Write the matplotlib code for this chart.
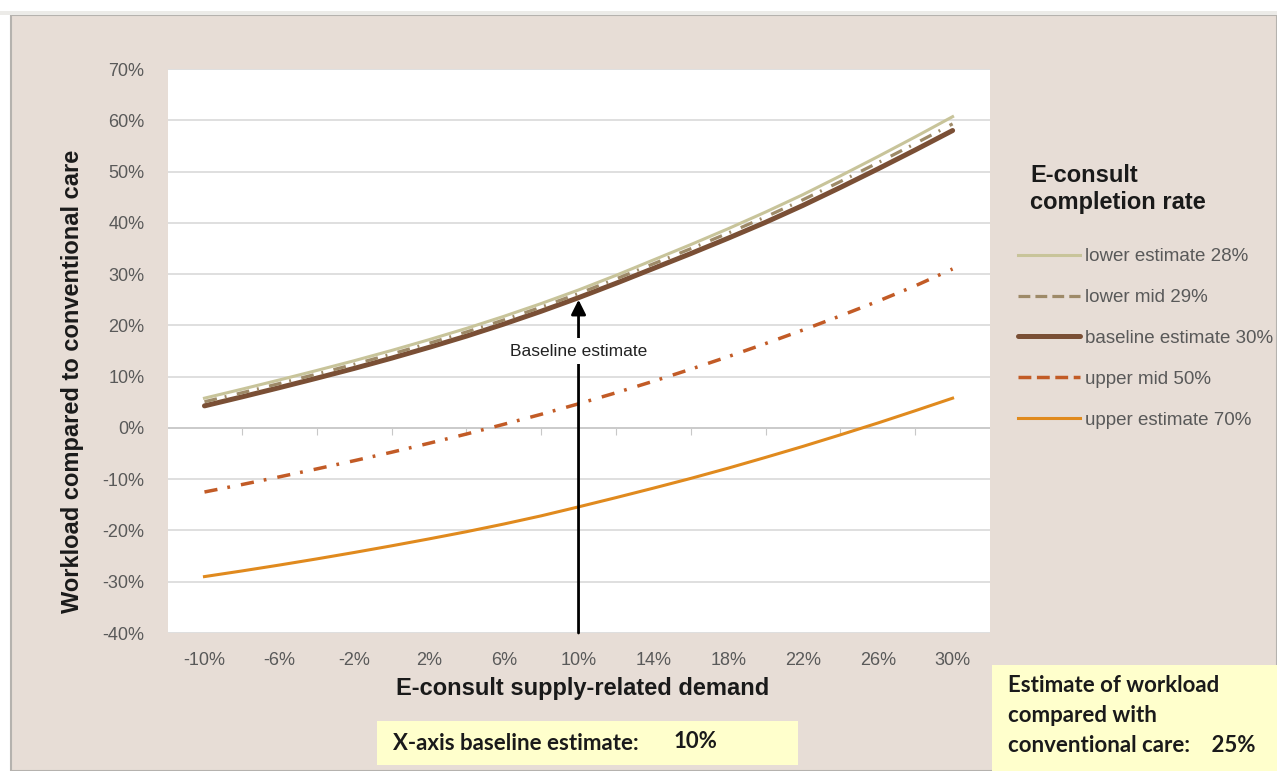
import matplotlib
matplotlib.use("Agg")
import matplotlib.pyplot as plt
from matplotlib.patches import Rectangle
from matplotlib.ticker import PercentFormatter
from matplotlib.lines import Line2D

# supply-related demand (%), one point every 2%
demand = list(range(-10, 31, 2))

lower_est = [5.8, 7.55, 9.35, 11.2, 13.1, 15.1, 17.2, 19.4, 21.75, 24.25, 26.9,
             29.75, 32.75, 35.75, 38.85, 42.1, 45.5, 49.15, 52.9, 56.75, 60.7]
lower_mid = [5.1, 6.85, 8.65, 10.5, 12.4, 14.4, 16.5, 18.7, 21.05, 23.55, 26.2,
             29.05, 32.0, 34.95, 38.0, 41.15, 44.5, 48.05, 51.7, 55.45, 59.3]
baseline = [4.3, 6.05, 7.85, 9.7, 11.6, 13.6, 15.7, 17.9, 20.25, 22.75, 25.4,
            28.2, 31.1, 34.0, 37.0, 40.1, 43.4, 46.9, 50.5, 54.2, 58.0]
upper_mid = [-12.5, -11.05, -9.55, -8.0, -6.4, -4.75, -3.0, -1.2, 0.7, 2.65, 4.7,
             6.85, 9.1, 11.45, 13.9, 16.45, 19.1, 21.85, 24.7, 27.7, 31.0]
upper_est = [-29.0, -27.9, -26.75, -25.55, -24.3, -23.0, -21.65, -20.25, -18.75, -17.15, -15.4,
             -13.6, -11.75, -9.85, -7.85, -5.75, -3.6, -1.35, 0.95, 3.35, 5.8]

series_labels = ["lower estimate 28%", "lower mid 29%", "baseline estimate 30%",
                 "upper mid 50%", "upper estimate 70%"]

x_ticks = list(range(-10, 31, 4))
x_minor = list(range(-8, 29, 4))
y_ticks = list(range(-40, 71, 10))

baseline_x = 10
baseline_workload = 25

BG = "#e7ddd6"
GRID = "#d9d9d9"
TXT = "#595959"

plt.rcParams['font.family'] = ['Liberation Sans', 'DejaVu Sans']
plt.rcParams['axes.unicode_minus'] = False

W, H = 1277, 771
fig = plt.figure(figsize=(W / 100, H / 100), dpi=100, facecolor="white")

# beige panel with grey frame
fig.patches.append(Rectangle((11 / W, 0), 1 - 11 / W, (H - 15) / H, transform=fig.transFigure,
                             facecolor=BG, edgecolor="#b5b2ae", lw=1.5, zorder=-10))
fig.patches.append(Rectangle((0, (H - 15) / H), 1, 4 / H, transform=fig.transFigure,
                             facecolor="#ecebe8", edgecolor="none", zorder=-10))

ax = fig.add_axes([168 / W, (H - 633) / H, (990 - 168) / W, (633 - 69) / H], zorder=2)
ax.set_facecolor("white")
for s in ax.spines.values():
    s.set_visible(False)

ax.set_xlim(-11.95, 32)
ax.set_ylim(-40, 70)
ax.set_yticks(y_ticks)
ax.yaxis.set_major_formatter(PercentFormatter(100, decimals=0))
ax.set_xticks(x_ticks)
ax.set_xticklabels([f"{v}%" for v in x_ticks])
ax.tick_params(axis="both", length=0, labelsize=13, labelcolor=TXT)
ax.tick_params(axis="y", pad=17)
ax.tick_params(axis="x", pad=14)
ax.grid(axis="y", color=GRID, lw=1.2)
ax.set_axisbelow(True)

# horizontal axis drawn at 0%
ax.axhline(0, color="#c8c8c8", lw=1.2, zorder=1)
sec = ax.secondary_xaxis(40 / 110)
sec.set_xticks(x_minor)
sec.tick_params(axis="x", length=5, color="#c8c8c8", labelbottom=False, labeltop=False,
                direction="out")
for s in sec.spines.values():
    s.set_visible(False)

l1, = ax.plot(demand, lower_est, color="#c8c49a", lw=2.2, zorder=3)
l2, = ax.plot(demand, lower_mid, color="#9e8a68", lw=2.3, ls=(0, (4, 2.5, 0.6, 3.3)), zorder=4)
l3, = ax.plot(demand, baseline, color="#7a4f35", lw=3.6, solid_capstyle="round", zorder=3)
l4, = ax.plot(demand, upper_mid, color="#c25b26", lw=2.5, ls=(0, (3.8, 2.9, 0.8, 3.2)), zorder=3)
l5, = ax.plot(demand, upper_est, color="#e08a1e", lw=2.2, zorder=3)

# baseline arrow
ax.annotate("", xy=(baseline_x, baseline_workload), xytext=(baseline_x, -40),
            arrowprops=dict(arrowstyle="-|>", color="black", lw=2, mutation_scale=22,
                            shrinkA=0, shrinkB=0), zorder=5)
ax.text(baseline_x, 15, "Baseline estimate", ha="center", va="center", fontsize=12.5,
        color="#222222", zorder=6,
        bbox=dict(facecolor="white", edgecolor="none", pad=4))

fig.text(73 / W, 1 - 381 / H, "Workload compared to conventional care", rotation=90,
         ha="center", va="center", fontsize=17, fontweight="bold", color="#1a1a1a")
fig.text(583 / W, 1 - 689 / H, "E-consult supply-related demand", ha="center", va="center",
         fontsize=17, fontweight="bold", color="#1a1a1a")

# legend title, then the entries
fig.text(1030 / W, 1 - 182 / H, "E-consult", fontsize=17, fontweight="bold",
         va="baseline", color="#1a1a1a")
fig.text(1030 / W, 1 - 209 / H, "completion rate", fontsize=17, fontweight="bold",
         va="baseline", color="#1a1a1a")

handles = [Line2D([], [], color=l.get_color(), lw=l.get_linewidth(), ls=l.get_linestyle())
           for l in (l1, l2, l3, l4, l5)]
handles[2].set_solid_capstyle("round")
leg = ax.legend(handles, series_labels, loc="upper left", bbox_to_anchor=(1018 / W, 1 - 248 / H),
                bbox_transform=fig.transFigure, frameon=False, fontsize=13.5, borderpad=0,
                borderaxespad=0, handlelength=3.3, handletextpad=0.25, labelspacing=1.27)
for t in leg.get_texts():
    t.set_color(TXT)

# yellow info boxes
YEL = "#ffffcc"
BOXFONT = ["Lato", "DejaVu Sans"]
fig.patches.append(Rectangle((377 / W, 1 - 765 / H), (798 - 377) / W, (765 - 721) / H,
                             transform=fig.transFigure, facecolor=YEL, edgecolor="none", zorder=-5))
fig.text(393 / W, 1 - 744 / H, "X-axis baseline estimate:", fontsize=16, fontweight="bold",
         family=BOXFONT, va="center", color="#1a1a1a")
fig.text(674 / W, 1 - 741 / H, "10%", fontsize=16, fontweight="bold",
         family=BOXFONT, va="center", color="#1a1a1a")

fig.patches.append(Rectangle((992 / W, 0), 1 - 992 / W, (771 - 665) / H,
                             transform=fig.transFigure, facecolor=YEL, edgecolor="none", zorder=-5))
for i, line in enumerate(["Estimate of workload", "compared with", "conventional care:    25%"]):
    fig.text(1008 / W, 1 - (686 + 30 * i) / H, line, fontsize=16, fontweight="bold",
             family=BOXFONT, va="center", color="#1a1a1a")

fig.savefig("out.png", dpi=100, facecolor=fig.get_facecolor())
